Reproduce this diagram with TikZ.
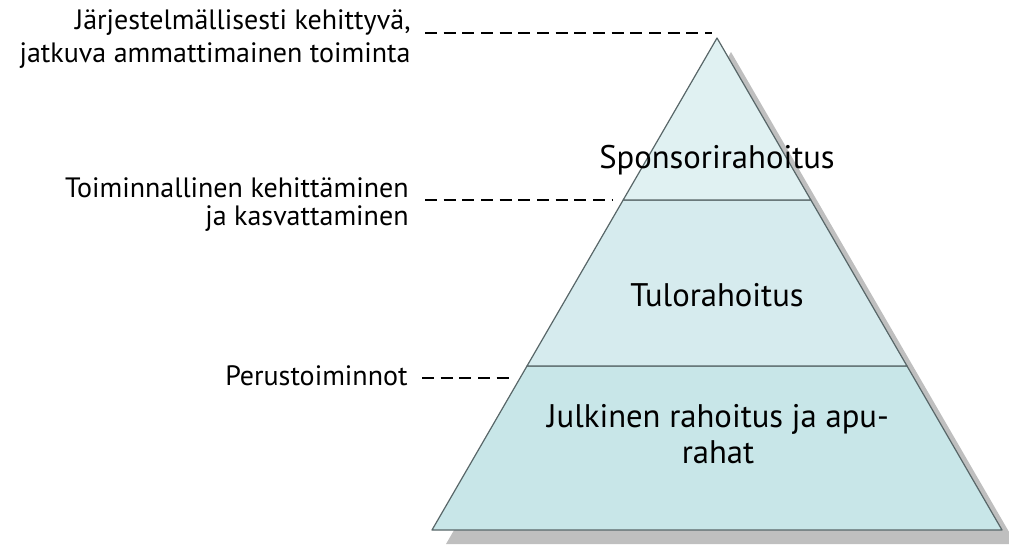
\documentclass[tikz,border=0pt]{standalone}
\usepackage{fontspec}
\setmainfont{PT Sans}
\usetikzlibrary{positioning,calc}

\definecolor{bandtop}{RGB}{224,241,242}
\definecolor{bandmid}{RGB}{214,235,238}
\definecolor{bandlow}{RGB}{200,230,232}
\definecolor{edgegray}{RGB}{88,102,104}
\definecolor{shadowgray}{RGB}{191,191,191}

\begin{document}
\begin{tikzpicture}[x=0.75pt,y=-0.75pt,semithick]
\tikzstyle{band}=[draw=edgegray,line width=0.9pt,line join=round]
\tikzstyle{bandtext}=[font=\fontsize{24.5pt}{26.5pt}\selectfont,align=center,inner sep=1pt]
\tikzstyle{sidetext}=[font=\fontsize{21pt}{20pt}\selectfont,inner sep=0pt]
\tikzstyle{guide}=[black,line width=1.6pt,dash pattern=on 9pt off 5pt]

\useasboundingbox (0,0) rectangle (1009,544);

        % corners of the pyramid
        \coordinate (A)  at (717,38);
        \coordinate (BL) at (432,530);
        \coordinate (BR) at (1002,530);
        \coordinate (L1) at ($(A)!0.3293!(BL)$);
        \coordinate (R1) at ($(A)!0.3293!(BR)$);
        \coordinate (L2) at ($(A)!0.6667!(BL)$);
        \coordinate (R2) at ($(A)!0.6667!(BR)$);

        % shadow
        \fill[shadowgray] ([shift={(14,14)}]A) -- ([shift={(14,14)}]BL) -- ([shift={(14,14)}]BR) -- cycle;

        % the three levels
        \draw[band,fill=bandlow] (L2) -- (BL) -- (BR) -- (R2) -- cycle;
        \draw[band,fill=bandmid] (L1) -- (L2) -- (R2) -- (R1) -- cycle;
        \draw[band,fill=bandtop] (A) -- (L1) -- (R1) -- cycle;

        \node[bandtext]  (spons)  at (717,160)  {Sponsorirahoitus};
        \node[bandtext]  (tulo)   at (717,295)  {Tulorahoitus};
        \node[bandtext]  (julk)   at (718,434)  {Julkinen rahoitus ja apu-\\rahat};

        % labels on the left
        \node[sidetext,anchor=east]        (sys1)  at (411,23)          {Järjestelmällisesti kehittyvä,};
        \node[sidetext,anchor=north east,yshift=-4.5pt]  (sys2)  at (sys1.south east)  {jatkuva ammattimainen toiminta};
        \node[sidetext,anchor=east]        (toim1) at (409,188)         {Toiminnallinen kehittäminen};
        \node[sidetext,anchor=north east,yshift=-5pt]  (toim2) at (toim1.south east) {ja kasvattaminen};
        \node[sidetext,anchor=east]        (perus) at (408,376)         {Perustoiminnot};

        \coordinate (t1) at (712,33);
        \coordinate (t2) at (612,200);
        \coordinate (t3) at (515,378);

        \draw[guide] (sys1.east |- t1) ++(14,0) -- (t1);
        \draw[guide] (toim1.east |- t2) ++(16,0) -- (t2);
        \draw[guide,line width=1.1pt] (perus.east |- t3) ++(14,0) -- (t3);

\end{tikzpicture}
\end{document}
